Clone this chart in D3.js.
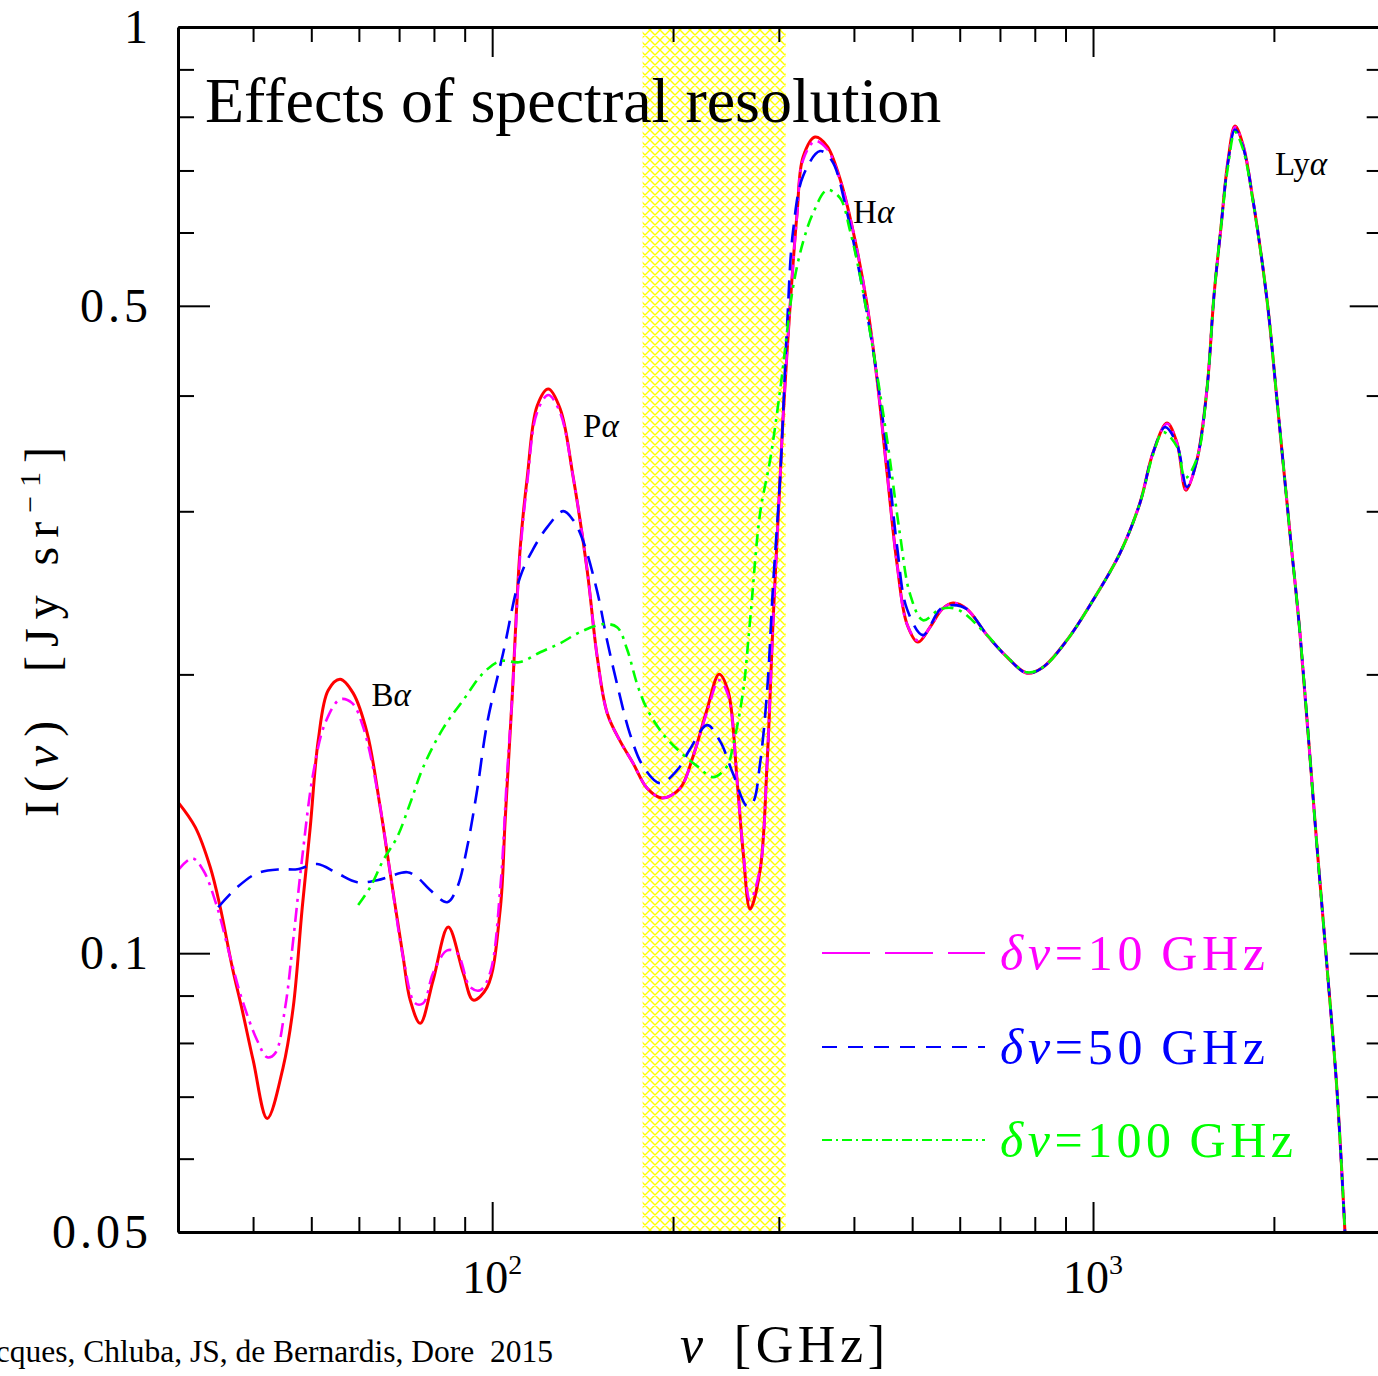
<!DOCTYPE html>
<html>
<head>
<meta charset="utf-8">
<script src="https://cdn.jsdelivr.net/npm/d3@7"></script>
<style>
  body { margin: 0; background: #fff; }
  svg { display: block; font-family: 'Liberation Serif', 'Times New Roman', serif; }
  .axis path, .axis line { stroke: #000; }
</style>
</head>
<body>
<div id="canvas"></div>
<script>
//---- ---- DATA ---- ----
// full resolution spectrum (red, solid)
var exactNu = [30, 32.05, 33.95, 35.27, 36.93, 38.37, 40.02, 42.23, 44.88, 46.65, 48.3, 49.8, 51.35, 53.35, 55.86, 58.7, 61.94, 65.1, 67.66, 71.1,
  73.04, 75.9, 79.75, 84.5, 89.5, 93.0, 98.1, 103.1, 105.1, 107.9, 111.3, 114.4, 118.8, 124.0, 129.8, 136.4, 143.9, 149.5, 155.4, 163.3,
  171.6, 181.1, 191.8, 205.5, 216.0, 227.9, 238.6, 247.0, 255.7, 261.6, 268.7, 279.2, 286.8, 293.5, 301.5, 305.0, 313.3, 321.7, 329.2, 344.7,
  360.9, 379.3, 398.7, 420.7, 437.0, 454.1, 471.9, 490.3, 511.4, 535.5, 560.9, 584.8, 617.0, 666.2, 719.3, 776.7, 825.6, 905.2, 1000, 1109,
  1197, 1258, 1328, 1380, 1428, 1489, 1547, 1590, 1633, 1678, 1723, 1777, 1846, 1948, 2024, 2127, 2210, 2358, 2452, 2547, 2626];
var exactI = [0.1456, 0.1368, 0.1238, 0.1121, 0.0966, 0.0868, 0.0766, 0.0663, 0.0753, 0.0874, 0.1121, 0.1368, 0.1698, 0.1923, 0.1976, 0.1909, 0.1728, 0.1438, 0.1220, 0.0990,
  0.0890, 0.0840, 0.0935, 0.1067, 0.0952, 0.0890, 0.0919, 0.1113, 0.1392, 0.1876, 0.2731, 0.3266, 0.3897, 0.4065, 0.3868, 0.3266, 0.2592, 0.2093, 0.1816, 0.1694,
  0.1604, 0.1507, 0.1471, 0.1507, 0.1632, 0.1834, 0.2001, 0.1918, 0.1533, 0.1286, 0.1116, 0.1229, 0.1604, 0.2288, 0.3266, 0.3802, 0.5010, 0.6297, 0.7238, 0.7606,
  0.7438, 0.6853, 0.6022, 0.5010, 0.4168, 0.3306, 0.2631, 0.2266, 0.2167, 0.2249, 0.2352, 0.2388, 0.2352, 0.2205, 0.2088, 0.2006, 0.2036, 0.2178, 0.2405, 0.2704,
  0.3062, 0.3467, 0.3736, 0.3554, 0.3162, 0.3407, 0.4055, 0.5136, 0.6081, 0.7185, 0.7818, 0.7457, 0.6505, 0.5073, 0.3956, 0.2842, 0.2216, 0.1308, 0.0966, 0.0711, 0.0500];

// dnu = 10 GHz (magenta)
var res10Nu = [30, 31.69, 33.05, 34.86, 36.65, 38.37, 40.64, 42.23, 43.55, 45.24, 46.65, 48.3, 50.37, 52.73, 55.86, 58.48, 61.0, 64.38, 67.66, 71.1,
  74.45, 76.77, 79.75, 84.18, 87.46, 91.92, 95.5, 99.2, 103.1, 105.9, 107.9, 111.3, 114.4, 118.8, 124.0, 129.8, 136.4, 143.9, 149.5, 155.4,
  163.3, 171.6, 181.1, 191.8, 205.5, 216.0, 227.9, 238.6, 247.0, 255.7, 261.6, 268.7, 279.2, 286.8, 293.5, 301.5, 305.0, 313.3, 321.7, 329.2,
  344.7, 360.9, 379.3, 398.7, 420.7, 437.0, 454.1, 471.9, 490.3, 511.4, 535.5, 560.9, 584.8, 617.0, 666.2, 719.3, 776.7, 825.6, 905.2, 1000,
  1109, 1197, 1258, 1328, 1380, 1428, 1489, 1547, 1590, 1633, 1678, 1723, 1777, 1846, 1948, 2024, 2127, 2210, 2358, 2452, 2547, 2626];
var res10I = [0.1229, 0.1266, 0.1229, 0.1121, 0.0990, 0.0890, 0.0805, 0.0772, 0.0780, 0.0874, 0.1033, 0.1270, 0.1564, 0.1772, 0.1880, 0.1862, 0.1754, 0.1500, 0.1220, 0.0990,
  0.0883, 0.0883, 0.0952, 0.1007, 0.1000, 0.0919, 0.0912, 0.0952, 0.1170, 0.1564, 0.1876, 0.2690, 0.3226, 0.3838, 0.4005, 0.3830, 0.3266, 0.2592, 0.2093, 0.1816,
  0.1694, 0.1604, 0.1507, 0.1471, 0.1507, 0.1632, 0.1821, 0.1971, 0.1899, 0.1533, 0.1292, 0.1141, 0.1235, 0.1604, 0.2288, 0.3266, 0.3802, 0.5010, 0.6266, 0.7185,
  0.7531, 0.7383, 0.6836, 0.6022, 0.5010, 0.4168, 0.3306, 0.2631, 0.2266, 0.2175, 0.2249, 0.2352, 0.2388, 0.2352, 0.2205, 0.2088, 0.2006, 0.2036, 0.2178, 0.2405,
  0.2704, 0.3062, 0.3467, 0.3730, 0.3554, 0.3170, 0.3407, 0.4055, 0.5136, 0.6081, 0.7185, 0.7800, 0.7457, 0.6505, 0.5073, 0.3956, 0.2842, 0.2216, 0.1308, 0.0966, 0.0711, 0.0500];

// dnu = 50 GHz (blue)
var res50Nu = [35.0, 37.64, 40.64, 44.38, 47.37, 51.15, 55.22, 59.63, 64.38, 72.21, 75.0, 78.84, 84.18, 87.46, 90.87, 94.4, 98.1, 104.3, 111.3, 117.0,
  123.5, 131.3, 136.4, 141.7, 149.5, 155.4, 161.4, 169.6, 178.3, 190.3, 203.2, 213.5, 227.9, 239.5, 251.8, 265.6, 271.8, 279.2, 286.8, 293.5,
  301.5, 309.7, 316.8, 329.2, 351.4, 367.9, 389.7, 409.6, 430.5, 454.1, 471.9, 490.3, 521.3, 556.5, 584.8, 617.0, 666.2, 719.3, 776.7, 825.6,
  905.2, 1000, 1109, 1197, 1258, 1318, 1380, 1433, 1489, 1547, 1590, 1633, 1678, 1723, 1777, 1846, 1948, 2024, 2127, 2210, 2358, 2452, 2547, 2626];
var res50I = [0.1121, 0.1178, 0.1220, 0.1232, 0.1232, 0.1248, 0.1220, 0.1193, 0.1199, 0.1223, 0.1208, 0.1170, 0.1135, 0.1178, 0.1302, 0.1500, 0.1772, 0.2109, 0.2547, 0.2731,
  0.2884, 0.3001, 0.2935, 0.2786, 0.2460, 0.2173, 0.1952, 0.1724, 0.1592, 0.1526, 0.1576, 0.1661, 0.1763, 0.1694, 0.1561, 0.1441, 0.1456, 0.1604, 0.1918, 0.2503,
  0.3266, 0.4778, 0.6022, 0.6904, 0.7346, 0.7166, 0.6297, 0.5384, 0.4479, 0.3467, 0.2751, 0.2352, 0.2205, 0.2352, 0.2376, 0.2352, 0.2205, 0.2088, 0.2006, 0.2036,
  0.2178, 0.2405, 0.2704, 0.3062, 0.3467, 0.3698, 0.3540, 0.3186, 0.3407, 0.4055, 0.5136, 0.6081, 0.7150, 0.7750, 0.7420, 0.6505, 0.5073, 0.3956, 0.2842, 0.2216,
  0.1308, 0.0966, 0.0711, 0.0500];

// dnu = 100 GHz (green)
var res100Nu = [59.84, 62.66, 65.87, 69.5, 73.04, 76.77, 82.9, 89.5, 96.6, 103.1, 111.3, 120.2, 129.8, 140.1, 153.0, 161.4, 167.7, 174.3, 181.1, 192.5,
  205.5, 219.4, 233.2, 246.0, 251.8, 261.6, 268.7, 279.2, 290.1, 301.5, 316.8, 329.2, 342.1, 360.9, 379.3, 394.2, 409.6, 430.5, 454.1, 477.4,
  496.0, 521.3, 556.5, 593.8, 666.2, 719.3, 776.7, 825.6, 905.2, 1000, 1109, 1197, 1258, 1308, 1380, 1423, 1489, 1547, 1590, 1633,
  1678, 1723, 1777, 1846, 1948, 2024, 2127, 2210, 2358, 2452, 2547, 2626];
var res100I = [0.1127, 0.1178, 0.1260, 0.1335, 0.1452, 0.1588, 0.1750, 0.1876, 0.2006, 0.2067, 0.2062, 0.2113, 0.2161, 0.2222, 0.2266, 0.2249, 0.2129, 0.1952, 0.1834, 0.1724,
  0.1649, 0.1592, 0.1549, 0.1592, 0.1677, 0.1918, 0.2288, 0.2987, 0.3407, 0.4055, 0.5239, 0.5860, 0.6297, 0.6668, 0.6536, 0.6022, 0.5384, 0.4479, 0.3591, 0.2828,
  0.2442, 0.2288, 0.2352, 0.2352, 0.2205, 0.2088, 0.2010, 0.2036, 0.2178, 0.2405, 0.2704, 0.3062, 0.3450, 0.3652, 0.3520, 0.3258, 0.3420, 0.4055, 0.5136, 0.6081,
  0.7080, 0.7701, 0.7380, 0.6480, 0.5073, 0.3956, 0.2842, 0.2216, 0.1308, 0.0966, 0.0711, 0.0500];

// masked band (GHz)
var bandNu = [178, 308];

// ticks
var xMajor = [100, 1000],
    xMinor = [40, 50, 60, 70, 80, 90, 200, 300, 400, 500, 600, 700, 800, 900, 2000, 3000],
    xLabels = [{v: 100, e: '2'}, {v: 1000, e: '3'}];
var yMajor = [0.05, 0.1, 0.5, 1],
    yMinor = [0.06, 0.07, 0.08, 0.09, 0.2, 0.3, 0.4, 0.6, 0.7, 0.8, 0.9],
    yLabels = ['0.05', '0.1', '0.5', '1'];

// line labels
var lineNames = ['B', 'P', 'H', 'Ly'],
    lineNameNu = [63, 141.7, 398.7, 2008],
    lineNameI = [0.185, 0.361, 0.614, 0.692];

// legend
var legendNames = ['10', '50', '100'];


//---- ---- MARGIN CONVENTION ---- ----
var W = 1378, H = 1376;
var m = {t: 27, l: 178, b: 1232, r: 1379.7};

var svg = d3.select('#canvas')
    .append('svg')
    .attr('width', W)
    .attr('height', H);


//---- ---- SCALES ---- ----
var scaleX = d3.scaleLog().domain([30, 3000]).range([m.l, m.r]);
var scaleY = d3.scaleLog().domain([0.05, 1]).range([m.b, m.t]);


//---- ---- DEFS ---- ----
var defs = svg.append('defs');

var hatch = defs.append('pattern')
    .attr('id', 'hatch')
    .attr('patternUnits', 'userSpaceOnUse')
    .attr('width', 10)
    .attr('height', 10);
hatch.append('path')
    .attr('d', 'M0,0L10,10M-1,9L1,11M9,-1L11,1M0,10L10,0M-1,1L1,-1M9,11L11,9')
    .attr('stroke', '#ffff00')
    .attr('stroke-width', 1.4)
    .attr('fill', 'none');

defs.append('clipPath').attr('id', 'clip')
    .append('rect')
    .attr('x', m.l).attr('y', m.t)
    .attr('width', m.r - m.l).attr('height', m.b - m.t);


//---- ---- BAND ---- ----
svg.append('rect')
    .attr('x', scaleX(bandNu[0]))
    .attr('y', m.t)
    .attr('width', scaleX(bandNu[1]) - scaleX(bandNu[0]))
    .attr('height', m.b - m.t)
    .attr('fill', 'url(#hatch)');


//---- ---- TITLE ---- ----
svg.append('text')
    .attr('x', 205).attr('y', 122)
    .style('font-size', '64px')
    .text('Effects of spectral resolution');


//---- ---- CURVES ---- ----
var series = [
    {nu: exactNu, I: exactI, color: '#ff0000', dash: null, width: 3},
    {nu: res10Nu, I: res10I, color: '#ff00ff', dash: '14,6,3,6', width: 2.6},
    {nu: res50Nu, I: res50I, color: '#0000ff', dash: '18,10', width: 2.6},
    {nu: res100Nu, I: res100I, color: '#00ff00', dash: '12,6,3,6', width: 2.6}
];

var line = d3.line()
    .x(function(d) { return scaleX(d[0]); })
    .y(function(d) { return scaleY(d[1]); })
    .curve(d3.curveCatmullRom.alpha(0.5));

var curves = svg.append('g').attr('clip-path', 'url(#clip)');
curves.selectAll('path')
    .data(series)
    .enter()
    .append('path')
    .attr('d', function(s) { return line(d3.zip(s.nu, s.I)); })
    .attr('fill', 'none')
    .attr('stroke', function(s) { return s.color; })
    .attr('stroke-width', function(s) { return s.width; })
    .attr('stroke-dasharray', function(s) { return s.dash; });


//---- ---- AXES ---- ----
function frame(axis, vals, size, tx, ty, domain) {
    var g = svg.append('g')
        .attr('class', 'axis')
        .attr('transform', 'translate(' + tx + ',' + ty + ')')
        .call(axis.tickValues(vals).tickSize(size).tickSizeOuter(0).tickFormat(''));
    g.selectAll('.tick line').attr('stroke-width', 2);
    if (domain) g.select('.domain').attr('stroke-width', 3);
    else g.select('.domain').remove();
}

frame(d3.axisBottom(scaleX), xMajor, -30, 0, m.b, true);
frame(d3.axisBottom(scaleX), xMinor, -15, 0, m.b, false);
frame(d3.axisTop(scaleX), xMajor, -30, 0, m.t, true);
frame(d3.axisTop(scaleX), xMinor, -15, 0, m.t, false);
frame(d3.axisLeft(scaleY), yMajor, -32, m.l, 0, true);
frame(d3.axisLeft(scaleY), yMinor, -16, m.l, 0, false);
frame(d3.axisRight(scaleY), yMajor, -30, m.r, 0, true);
frame(d3.axisRight(scaleY), yMinor, -13, m.r, 0, false);


//---- ---- TICK LABELS ---- ----
svg.selectAll('.ylab')
    .data(yMajor)
    .enter()
    .append('text')
    .attr('class', 'ylab')
    .attr('x', 152)
    .attr('y', function(d) { return scaleY(d) + 16; })
    .attr('text-anchor', 'end')
    .style('font-size', '48px')
    .style('letter-spacing', '4px')
    .text(function(d, i) { return yLabels[i]; });

var xl = svg.selectAll('.xlab')
    .data(xLabels)
    .enter()
    .append('text')
    .attr('class', 'xlab')
    .attr('x', function(d) { return scaleX(d.v); })
    .attr('y', 1293)
    .attr('text-anchor', 'middle')
    .style('font-size', '46px');
xl.append('tspan').text('10');
xl.append('tspan').attr('dy', -19).style('font-size', '28px').text(function(d) { return d.e; });


//---- ---- AXIS TITLES ---- ----
var xt = svg.append('text')
    .attr('x', 680).attr('y', 1362)
    .attr('textLength', 205)
    .style('font-size', '52px');
xt.append('tspan').style('font-style', 'italic').text('ν');
xt.append('tspan').attr('dx', 26).text('[GHz]');

var yt = svg.append('text')
    .attr('transform', 'translate(58,632) rotate(-90)')
    .attr('text-anchor', 'middle')
    .attr('textLength', 370)
    .style('font-size', '48px');
yt.append('tspan').text('I(');
yt.append('tspan').style('font-style', 'italic').text('ν');
yt.append('tspan').text(')');
yt.append('tspan').attr('dx', 40).text('[Jy sr');
yt.append('tspan').attr('dy', -18).style('font-size', '30px').text('−1');
yt.append('tspan').attr('dy', 18).text(']');

svg.append('text')
    .attr('x', 553).attr('y', 1362)
    .attr('text-anchor', 'end')
    .style('font-size', '31.5px')
    .text('Desjacques, Chluba, JS, de Bernardis, Dore\u00a0\u00a02015');


//---- ---- LINE LABELS ---- ----
var ll = svg.selectAll('.lname')
    .data(lineNames)
    .enter()
    .append('text')
    .attr('class', 'lname')
    .attr('x', function(d, i) { return scaleX(lineNameNu[i]); })
    .attr('y', function(d, i) { return scaleY(lineNameI[i]); })
    .style('font-size', '33px');
ll.append('tspan').text(function(d) { return d; });
ll.append('tspan').style('font-style', 'italic').text('α');


//---- ---- LEGEND ---- ----
var legY = [953, 1047, 1140];
var leg = svg.selectAll('.leg')
    .data(series.slice(1))
    .enter()
    .append('g')
    .attr('class', 'leg')
    .attr('transform', function(d, i) { return 'translate(0,' + legY[i] + ')'; });

var legDash = ['48,15', '15,11', '10,4,2,4'];
leg.append('line')
    .attr('x1', 822).attr('x2', 985)
    .attr('stroke', function(d) { return d.color; })
    .attr('stroke-width', 2)
    .attr('stroke-dasharray', function(d, i) { return legDash[i]; });

var lt = leg.append('text')
    .attr('x', 1000).attr('y', 17)
    .attr('fill', function(d) { return d.color; })
    .attr('textLength', function(d, i) { return i == 2 ? 293 : 265; })
    .style('font-size', '50px');
lt.append('tspan').style('font-style', 'italic').text('δν');
lt.append('tspan').text(function(d, i) { return '=' + legendNames[i]; });
lt.append('tspan').attr('dx', 14).text('GHz');
</script>
</body>
</html>
